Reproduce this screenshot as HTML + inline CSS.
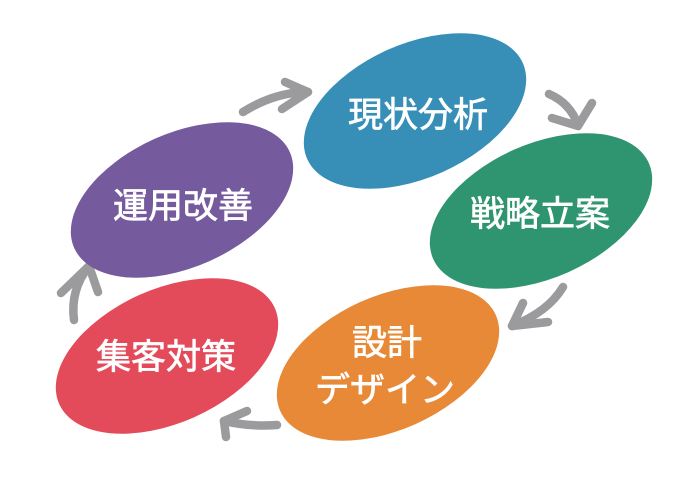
<!DOCTYPE html>
<html><head><meta charset="utf-8"><style>
html,body{margin:0;padding:0;background:#fff;}
svg{display:block;}
text{font-family:"Liberation Sans","Noto Sans CJK JP",sans-serif;font-weight:normal;fill:#fff;stroke:#fff;stroke-width:0.7px;font-size:35px;text-anchor:middle;}
</style></head><body>
<svg width="690" height="478" viewBox="0 0 690 478" xmlns="http://www.w3.org/2000/svg">
<g fill="none" stroke="#9b9b9d" stroke-width="8.5" stroke-linecap="round" stroke-linejoin="round">
<path d="M243,112 Q275,92 308,92"/><path d="M285,82 L308,92 L282,109"/>
<path d="M549,94 Q570,103 578,125"/><path d="M552,118 L578,126 L592,103"/>
<path d="M563,287 Q548,312 512,326"/><path d="M523,303 L512,326 L548,322"/>
<path d="M277,425 Q250,427 224,421"/><path d="M247,411 L224,421 L226,437"/>
<path d="M74,320 Q70,290 89,266"/><path d="M61,293 L89,266 L98,292"/>
</g>
<ellipse cx="415" cy="111" rx="118" ry="67" transform="rotate(-24 415 111)" fill="#378fb8"/>
<ellipse cx="182" cy="200" rx="118" ry="67" transform="rotate(-24 182 200)" fill="#765a9e"/>
<ellipse cx="541" cy="211" rx="118" ry="67" transform="rotate(-24 541 211)" fill="#2f9470"/>
<ellipse cx="388" cy="363" rx="118" ry="67" transform="rotate(-24 388 363)" fill="#e88937"/>
<ellipse cx="167" cy="356" rx="118" ry="67" transform="rotate(-24 167 356)" fill="#e34a5a"/>
<text x="418" y="127">現状分析</text>
<text x="183" y="218">運用改善</text>
<text x="540" y="226">戦略立案</text>
<text x="387" y="355">設計</text>
<text x="385" y="402">デザイン</text>
<text x="166" y="369">集客対策</text>
</svg>
</body></html>
